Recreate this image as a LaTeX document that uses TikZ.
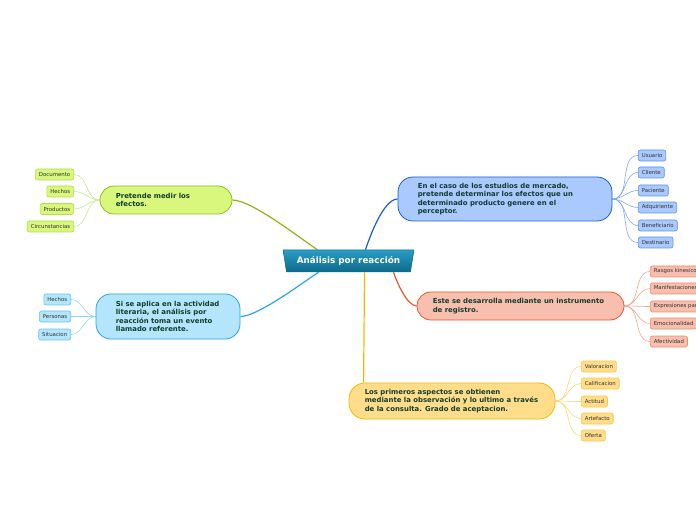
\documentclass[tikz,border=0pt]{standalone}
\usepackage{fontspec}
\setmainfont{DejaVu Sans}
\usetikzlibrary{shapes.geometric,backgrounds,calc}
\definecolor{ctop}{HTML}{2A9CC4}
\definecolor{cbot}{HTML}{0E6A8A}
\definecolor{cborder}{HTML}{0E6A8A}
\definecolor{mtxt}{HTML}{123C2C}
\definecolor{ltxt}{HTML}{333333}
\definecolor{gfill}{HTML}{D8F77C}
\definecolor{gdraw}{HTML}{8CBF26}
\definecolor{gline}{HTML}{8DB616}
\definecolor{gleafdraw}{HTML}{B5DC50}
\definecolor{glight}{HTML}{C8E68E}
\definecolor{lbfill}{HTML}{B3E5FC}
\definecolor{lbdraw}{HTML}{2AA6E0}
\definecolor{lbleafdraw}{HTML}{66C6F2}
\definecolor{lblight}{HTML}{94D6F5}
\definecolor{bfill}{HTML}{A9C9FF}
\definecolor{bdraw}{HTML}{1A5FD0}
\definecolor{bleafdraw}{HTML}{5F92EA}
\definecolor{blight}{HTML}{7EA9F0}
\definecolor{sfill}{HTML}{F8BFAE}
\definecolor{sdraw}{HTML}{E8572A}
\definecolor{sleafdraw}{HTML}{F08B6B}
\definecolor{slight}{HTML}{F2A58E}
\definecolor{yfill}{HTML}{FFDD8A}
\definecolor{ydraw}{HTML}{F5B800}
\definecolor{yleafdraw}{HTML}{F7CB4A}
\definecolor{ylight}{HTML}{FBD67C}
\tikzset{
  bigbox/.style={draw, line width=0.8pt, rounded corners=15pt, inner sep=0pt},
  mtext/.style={anchor=west, align=left, inner sep=0pt, text=mtxt,
    font=\bfseries\fontsize{6.9}{8.5}\selectfont},
  leaf/.style={draw, line width=0.6pt, rounded corners=2pt, minimum height=11pt,
    inner xsep=3.5pt, inner ysep=0pt, text=ltxt, font=\fontsize{5.4}{6}\selectfont},
  mainline/.style={line width=1.2pt},
  leafline/.style={line width=0.6pt},
}
\begin{document}
\begin{tikzpicture}[x=1pt,y=1pt]
\clip (0,0) rectangle (696,520);

% central node
\node[trapezium, trapezium angle=72, shape border rotate=180, trapezium stretches=true,
  minimum width=131pt, minimum height=22pt, top color=ctop, bottom color=cbot,
  draw=cborder, line width=0.5pt, text=white, inner sep=0pt,
  font=\bfseries\fontsize{8.8}{10}\selectfont] (c) at (348.5,259) {Análisis por reacción};

% main boxes
\node[bigbox, fill=gfill, draw=gdraw, rounded corners=14pt, minimum width=132pt, minimum height=28pt] (G) at (166,320) {};
\node[mtext] (Gt) at ($(G.west)+(16,0)$) {Pretende medir los\\efectos.};

\node[bigbox, fill=lbfill, draw=lbdraw, minimum width=144pt, minimum height=45pt] (LB) at (168,203.5) {};
\node[mtext] (LBt) at ($(LB.west)+(20,0)$) {Si se aplica en la actividad\\literaria, el análisis por\\reacción toma un evento\\llamado referente.};

\node[bigbox, fill=bfill, draw=bdraw, minimum width=214pt, minimum height=44pt] (B) at (505,321) {};
\node[mtext] (Bt) at ($(B.west)+(20,0)$) {En el caso de los estudios de mercado,\\pretende determinar los efectos que un\\determinado producto genere en el\\perceptor.};

\node[bigbox, fill=sfill, draw=sdraw, rounded corners=14pt, minimum width=207pt, minimum height=28pt] (S) at (520.5,214) {};
\node[mtext] (St) at ($(S.west)+(16,0)$) {Este se desarrolla mediante un instrumento\\de registro.};

\node[bigbox, fill=yfill, draw=ydraw, rounded corners=16pt, minimum width=206pt, minimum height=36pt] (Y) at (452,119) {};
\node[mtext] (Yt) at ($(Y.west)+(16,0)$) {Los primeros aspectos se obtienen\\mediante la observación y lo ultimo a través\\de la consulta. Grado de aceptacion.};

% main connectors
\begin{pgfonlayer}{background}
\draw[mainline, gline] ($(c.north)+(-31,0)$) to[out=147,in=0,looseness=0.5] (G.east);
\draw[mainline, lbdraw] ($(c.south)+(-30,0)$) to[out=213,in=0,looseness=0.5] (LB.east);
\draw[mainline, bdraw] ($(c.north)+(17,0)$) to[out=72,in=180,looseness=0.6] (B.west);
\draw[mainline, sdraw] ($(c.south)+(45,0)$) to[out=-72,in=180,looseness=0.6] (S.west);
\draw[mainline, ydraw] ($(c.south)+(16,0)$) -- ($(Y.north west)+(15,0)$);
\end{pgfonlayer}

% leaves: green
\foreach \t/\y/\n in {Documento/345.5/g1, Hechos/328.5/g2, Productos/311/g3, Circunstancias/293.5/g4}{
  \node[leaf, fill=gfill, draw=gleafdraw, anchor=east] (\n) at (74,\y) {\t};
  \begin{pgfonlayer}{background}
  \draw[leafline, glight] (G.west) to[out=180,in=0] (\n.east);
  \end{pgfonlayer}
}
% leaves: light blue
\foreach \t/\y/\n in {Hechos/220.5/l1, Personas/203.5/l2, Situacion/185.5/l3}{
  \node[leaf, fill=lbfill, draw=lbleafdraw, anchor=east] (\n) at (71,\y) {\t};
  \begin{pgfonlayer}{background}
  \draw[leafline, lblight] (LB.west) to[out=180,in=0] (\n.east);
  \end{pgfonlayer}
}
% leaves: blue
\foreach \t/\y/\n in {Usuario/364.5/b1, Cliente/347.5/b2, Paciente/329.5/b3, Adquiriente/312.5/b4, Beneficiario/294.5/b5, Destinario/277.5/b6}{
  \node[leaf, fill=bfill, draw=bleafdraw, anchor=west] (\n) at (638,\y) {\t};
  \begin{pgfonlayer}{background}
  \draw[leafline, blight] (B.east) to[out=0,in=180] (\n.west);
  \end{pgfonlayer}
}
% leaves: salmon
\foreach \t/\y/\n in {Rasgos kinesicos/248.5/s1, Manifestaciones corporales/231.5/s2, Expresiones paraverbales/213.5/s3, Emocionalidad/196.5/s4, Afectividad/178.5/s5}{
  \node[leaf, fill=sfill, draw=sleafdraw, anchor=west] (\n) at (650,\y) {\t};
  \begin{pgfonlayer}{background}
  \draw[leafline, slight] (S.east) to[out=0,in=180] (\n.west);
  \end{pgfonlayer}
}
% leaves: yellow
\foreach \t/\y/\n in {Valoracion/153.5/y1, Calificacion/136.5/y2, Actitud/118.5/y3, Artefacto/101.5/y4, Oferta/84.5/y5}{
  \node[leaf, fill=yfill, draw=yleafdraw, anchor=west] (\n) at (581,\y) {\t};
  \begin{pgfonlayer}{background}
  \draw[leafline, ylight] (Y.east) to[out=0,in=180] (\n.west);
  \end{pgfonlayer}
}
\end{tikzpicture}
\end{document}
